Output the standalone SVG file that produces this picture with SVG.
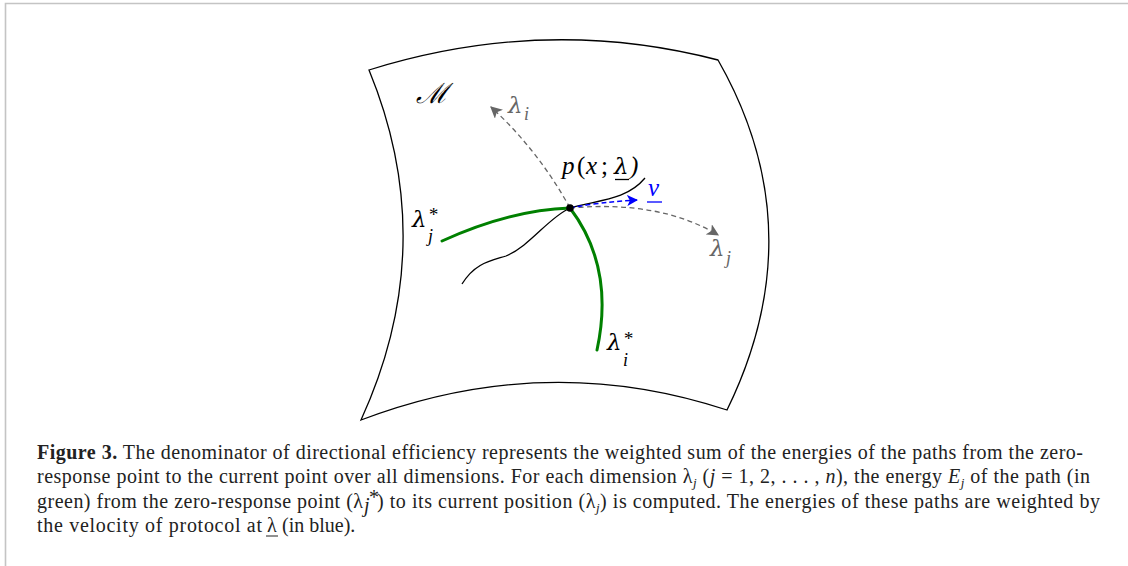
<svg xmlns="http://www.w3.org/2000/svg" width="1128" height="566" viewBox="0 0 1128 566">
<style>
.edge{fill:none;stroke:#000;stroke-width:1.3}
.gray{fill:none;stroke:#666;stroke-width:1.3;stroke-dasharray:5 3.5}
.blue{fill:none;stroke:#0000ff;stroke-width:1.5;stroke-dasharray:5 3}
.green{fill:none;stroke:#008000;stroke-width:3;stroke-linecap:round}
.m{font-family:"Liberation Serif","DejaVu Serif",serif;font-style:italic}
.l{font-family:"DejaVu Serif","Liberation Serif",serif;font-style:italic}
.cap{font-family:"Liberation Serif",serif;font-size:20px;fill:#222}
.i{font-style:italic}
</style>
<defs>
<marker id="ag" markerUnits="userSpaceOnUse" markerWidth="12" markerHeight="12" refX="9" refY="5" orient="auto" viewBox="0 0 10 10"><path d="M0,0 L10,5 L0,10 L2.5,5 z" fill="#666"/></marker>
<marker id="ab" markerUnits="userSpaceOnUse" markerWidth="11" markerHeight="11" refX="9" refY="5" orient="auto" viewBox="0 0 10 10"><path d="M0,0 L10,5 L0,10 L2.5,5 z" fill="#0000ff"/></marker>
</defs>
<rect width="1128" height="566" fill="#fff"/>
<path d="M5.5,566 L5.5,3.5 L1128,3.5" fill="none" stroke="#c4c4c4" stroke-width="1.6"/>
<g id="manifold">
<path class="edge" d="M369,70 Q545,15 718,60 Q815,230 727,410 Q545,350 361,420 Q441,245 369,70 Z"/>
<text class="m" x="416" y="103" font-size="28" font-style="normal">ℳ</text>
</g>
<g id="connectors">
<path class="edge" d="M462,284 C475,263 490,261 506,256 C530,246 548,218 570,208 C596,200 626,201 645,178"/>
<path class="green" d="M570,208 Q510,210 442,241"/>
<path class="green" d="M570,208 C598,245 610,290 597,350"/>
<path class="gray" d="M570,208 Q538,150 491,107" marker-end="url(#ag)"/>
<path class="gray" d="M570,208 Q660,200 718,235" marker-end="url(#ag)"/>
<path class="blue" d="M570,208 Q600,202 637,200" marker-end="url(#ab)"/>
</g>
<g id="point">
<circle cx="570" cy="208" r="3.8" fill="#000"/>
<text class="m" y="174" font-size="25"><tspan x="562">p</tspan><tspan x="577" font-style="normal">(</tspan><tspan x="586">x</tspan><tspan x="601" font-style="normal">;</tspan></text>
<text class="l" x="614" y="174" font-size="23">λ</text>
<text class="m" x="630" y="174" font-size="25" font-style="normal">)</text>
<line x1="615" y1="179.5" x2="629" y2="179.5" stroke="#000" stroke-width="1.3"/>
</g>
<g id="velocity">
<text class="m" x="648" y="196" font-size="25" fill="#0000ff">v</text>
<line x1="647" y1="202" x2="662" y2="202" stroke="#0000ff" stroke-width="1.3"/>
</g>
<g id="lambda-i" fill="#666">
<text class="l" x="508" y="113" font-size="23">λ</text>
<text class="m" x="524" y="120" font-size="18">i</text>
</g>
<g id="lambda-j" fill="#666">
<text class="l" x="710" y="256" font-size="23">λ</text>
<text class="m" x="726" y="264" font-size="18">j</text>
</g>
<g id="lambda-j-star">
<text class="l" x="412" y="227" font-size="23">λ</text>
<text class="m" x="428" y="221" font-size="19" font-style="normal">*</text>
<text class="m" x="428" y="242" font-size="18">j</text>
</g>
<g id="lambda-i-star">
<text class="l" x="607" y="350" font-size="23">λ</text>
<text class="m" x="623" y="345" font-size="19" font-style="normal">*</text>
<text class="m" x="623" y="366" font-size="18">i</text>
</g>
<g id="caption">
<text class="cap" x="37" y="459" textLength="1046" lengthAdjust="spacing"><tspan font-weight="bold">Figure 3.</tspan> The denominator of directional efficiency represents the weighted sum of the energies of the paths from the zero-</text>
<text class="cap" x="37" y="483" textLength="1053" lengthAdjust="spacing">response point to the current point over all dimensions. For each dimension λ<tspan class="i" font-size="13" dy="4">j</tspan><tspan dy="-4"> (</tspan><tspan class="i">j</tspan> = 1, 2, . . . , <tspan class="i">n</tspan>), the energy <tspan class="i">E</tspan><tspan class="i" font-size="13" dy="4">j</tspan><tspan dy="-4"> of the path (in</tspan></text>
<text class="cap" x="37" y="507.5" textLength="326" lengthAdjust="spacing">green) from the zero-response point (λ</text>
<text class="cap i" x="364" y="512" font-size="12">j</text>
<text class="cap" x="369" y="504" font-size="10">*</text>
<text class="cap" x="377" y="507.5" textLength="723" lengthAdjust="spacing">) to its current position (λ<tspan class="i" font-size="13" dy="4">j</tspan><tspan dy="-4">) is computed. The energies of these paths are weighted by</tspan></text>
<text class="cap" x="37" y="532" textLength="225" lengthAdjust="spacing">the velocity of protocol at</text>
<text class="cap" x="267" y="532">λ</text>
<text class="cap" x="282" y="532">(in blue).</text>
<line x1="266" y1="536" x2="278" y2="536" stroke="#222" stroke-width="1"/>
</g>
</svg>
